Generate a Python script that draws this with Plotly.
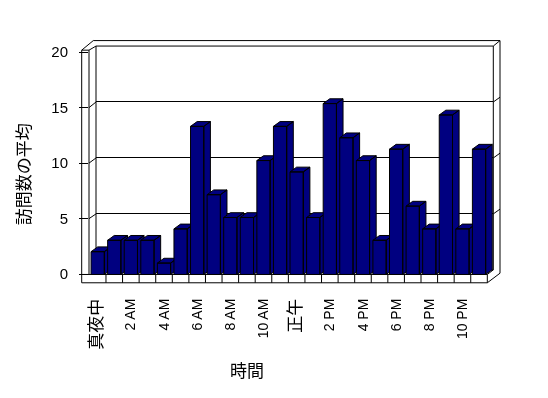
import plotly.graph_objects as go

# ---------------- data ----------------
hours = list(range(24))
avg_visits = [2, 3, 3, 3, 1, 4, 13, 7, 5, 5, 10, 13, 9, 5, 15, 12, 10, 3, 11, 6, 4, 14, 4, 11]
tick_hours = [0, 2, 4, 6, 8, 10, 12, 14, 16, 18, 20, 22]
tick_labels = ["真夜中", "2 AM", "4 AM", "6 AM", "8 AM", "10 AM", "正午",
               "2 PM", "4 PM", "6 PM", "8 PM", "10 PM"]
y_ticks = [0, 5, 10, 15, 20]
x_title = "時間"
y_title = "訪問数の平均"

# ---------------- layout geometry (pixels) ----------------
W, H = 548, 398
NAVY = "#000080"
LAT = "Liberation Sans, Arial, Noto Sans CJK JP, sans-serif"
CJK = "Noto Sans CJK JP, Liberation Sans, sans-serif"


def fx(p):
    return p / W


def fy(p):
    return 1 - p / H


# front plane of the bars
CAT_PX = 16.58          # pixels per category
UNIT_PX = 11.9          # pixels per value unit
X_LEFT = 89.4           # pixel of category -0.5
Y_BASE = 277.3          # pixel of value 0
DX_PX, DY_PX = 6.6, -5.0  # depth offset of the 3D boxes
HALF_W = 0.4

# back wall
BW_L, BW_R, BW_T, BW_B = 96.0, 493.3, 38.7, 272.5
OUT_T, OUT_R = 33.0, 500.0
# front (left wall) tick scale
FT_0, FT_20 = 277.0, 45.0
LW_F, LW_M = 81.7, 89.0
FLOOR_B = 286.0
FLOOR_R = X_LEFT + 24 * CAT_PX

bx_range = [-1.0, 24.5]
by_range = [-1.0, 20.5]
bx_dom = [fx(X_LEFT + (bx_range[0] + 0.5) * CAT_PX), fx(X_LEFT + (bx_range[1] + 0.5) * CAT_PX)]
by_dom = [fy(Y_BASE - by_range[0] * UNIT_PX), fy(Y_BASE - by_range[1] * UNIT_PX)]

ddx = DX_PX / CAT_PX
ddy = -DY_PX / UNIT_PX

fig = go.Figure()

# placeholder traces so the back-wall and front-tick subplots are drawn
fig.add_trace(go.Scatter(x=[None], y=[None], xaxis="x", yaxis="y", mode="lines",
                         line=dict(color="black"), hoverinfo="skip", showlegend=False))
fig.add_trace(go.Scatter(x=[None], y=[None], xaxis="x3", yaxis="y3", mode="lines",
                         line=dict(color="black"), hoverinfo="skip", showlegend=False))

# 3D bars, one trace per bar so that later bars hide earlier side faces
for h, v in zip(hours, avg_visits):
    xs, ys = [], []
    # side face
    xs += [h + HALF_W, h + HALF_W + ddx, h + HALF_W + ddx, h + HALF_W, h + HALF_W, None]
    ys += [0, ddy, v + ddy, v, 0, None]
    # top face
    xs += [h - HALF_W, h - HALF_W + ddx, h + HALF_W + ddx, h + HALF_W, h - HALF_W, None]
    ys += [v, v + ddy, v + ddy, v, v, None]
    # front face
    xs += [h - HALF_W, h + HALF_W, h + HALF_W, h - HALF_W, h - HALF_W]
    ys += [0, 0, v, v, 0]
    fig.add_trace(go.Scatter(x=xs, y=ys, xaxis="x2", yaxis="y2", mode="lines",
                             fill="toself", fillcolor=NAVY,
                             line=dict(color="black", width=1),
                             hoverinfo="skip", showlegend=False))

# ---------------- frame shapes ----------------
shapes = []


def seg(x0, y0, x1, y1):
    shapes.append(dict(type="line", xref="paper", yref="paper", layer="below",
                       x0=fx(x0), y0=fy(y0), x1=fx(x1), y1=fy(y1),
                       line=dict(color="black", width=1)))


# back wall inner edges
seg(BW_L, BW_T, BW_R, BW_T)
seg(BW_R, BW_T, BW_R, BW_B)
seg(BW_L, BW_T, BW_L, BW_B)
seg(BW_L, BW_B, BW_R, BW_B)
# back wall outer edges
seg(93.3, OUT_T, OUT_R, OUT_T)
seg(OUT_R, OUT_T, OUT_R, 276.0)
seg(BW_R, BW_T, OUT_R, OUT_T)
# left wall
seg(93.3, OUT_T, LW_F, 43.0)
seg(LW_F, 43.0, LW_M, 43.0)
seg(LW_M, 43.0, BW_L, BW_T)
seg(LW_F, 43.0, LW_F, FLOOR_B)
seg(LW_M, 43.0, LW_M, Y_BASE)


def front_y(v):
    return FT_0 + (FT_20 - FT_0) * v / 20.0


def back_y(v):
    return BW_B + (BW_T - BW_B) * v / 20.0


for v in y_ticks[1:-1]:
    seg(LW_M, front_y(v), BW_L, back_y(v))
    seg(BW_R, back_y(v), OUT_R, back_y(v) - 5)

# floor
seg(LW_F, Y_BASE, FLOOR_R, Y_BASE)
seg(LW_F, FLOOR_B, FLOOR_R, FLOOR_B)
seg(FLOOR_R, Y_BASE, FLOOR_R, FLOOR_B)
seg(FLOOR_R, FLOOR_B, OUT_R, 276.0)
seg(FLOOR_R, Y_BASE, BW_R, BW_B)
for h in hours[:-1]:
    shapes.append(dict(type="line", xref="x2", yref="paper", layer="below",
                       x0=h + 0.5, x1=h + 0.5, y0=fy(Y_BASE), y1=fy(FLOOR_B),
                       line=dict(color="black", width=1)))


def fmt(t):
    if any(ord(c) > 0x2E80 for c in t):
        return '<span style="font-size:17px">' + t + "</span>"
    return t


fig.update_layout(
    width=W, height=H,
    margin=dict(l=0, r=0, t=0, b=0),
    paper_bgcolor="white",
    plot_bgcolor="rgba(0,0,0,0)",
    showlegend=False,
    shapes=shapes,
    # back wall (gridlines)
    xaxis=dict(domain=[fx(BW_L), fx(BW_R)], range=[0, 1], showgrid=False, zeroline=False,
               showticklabels=False, showline=False, ticks=""),
    yaxis=dict(domain=[fy(BW_B), fy(BW_T)], range=[0, 20], tickvals=y_ticks[1:-1],
               showgrid=True, gridcolor="black", gridwidth=1, zeroline=False,
               showticklabels=False, showline=False, ticks=""),
    # bars
    xaxis2=dict(domain=bx_dom, range=bx_range, anchor="y2", showgrid=False, zeroline=False,
                showline=False, ticks="", tickvals=tick_hours,
                ticktext=[fmt(t) for t in tick_labels], tickangle=-90,
                tickfont=dict(family=LAT, size=14, color="#000000"),
                ticklabelstandoff=9),
    yaxis2=dict(domain=by_dom, range=by_range, anchor="x2", showgrid=False, zeroline=False,
                showline=False, ticks="", showticklabels=False),
    # front tick labels (left wall)
    xaxis3=dict(domain=[fx(LW_M), fx(FLOOR_R)], range=[0, 1], anchor="y3", showgrid=False,
                zeroline=False, showline=False, ticks="", showticklabels=False),
    yaxis3=dict(domain=[fy(FT_0), fy(FT_20)], range=[0, 20], anchor="x3", tickvals=y_ticks,
                showgrid=False, zeroline=False, showline=False, ticks="outside",
                ticklen=9, tickcolor="black", tickwidth=1,
                tickfont=dict(family=LAT, size=15, color="#000000"),
                ticklabelstandoff=8),
    annotations=[
        dict(text=x_title, xref="paper", yref="paper", x=fx(246.7), y=fy(376.7),
             showarrow=False, xanchor="center", yanchor="middle",
             font=dict(family=CJK, size=17, color="#000000")),
        dict(text=y_title, xref="paper", yref="paper", x=fx(23.3), y=fy(172.3),
             showarrow=False, xanchor="center", yanchor="middle", textangle=-90,
             font=dict(family=CJK, size=17, color="#000000")),
    ],
)

fig.write_html(
    "out.html", config={"displayModeBar": False},
    post_script=("document.body.style.margin='0';"
                 "document.querySelectorAll('.main-svg').forEach("
                 "function(s){s.style.willChange='transform';});"))
